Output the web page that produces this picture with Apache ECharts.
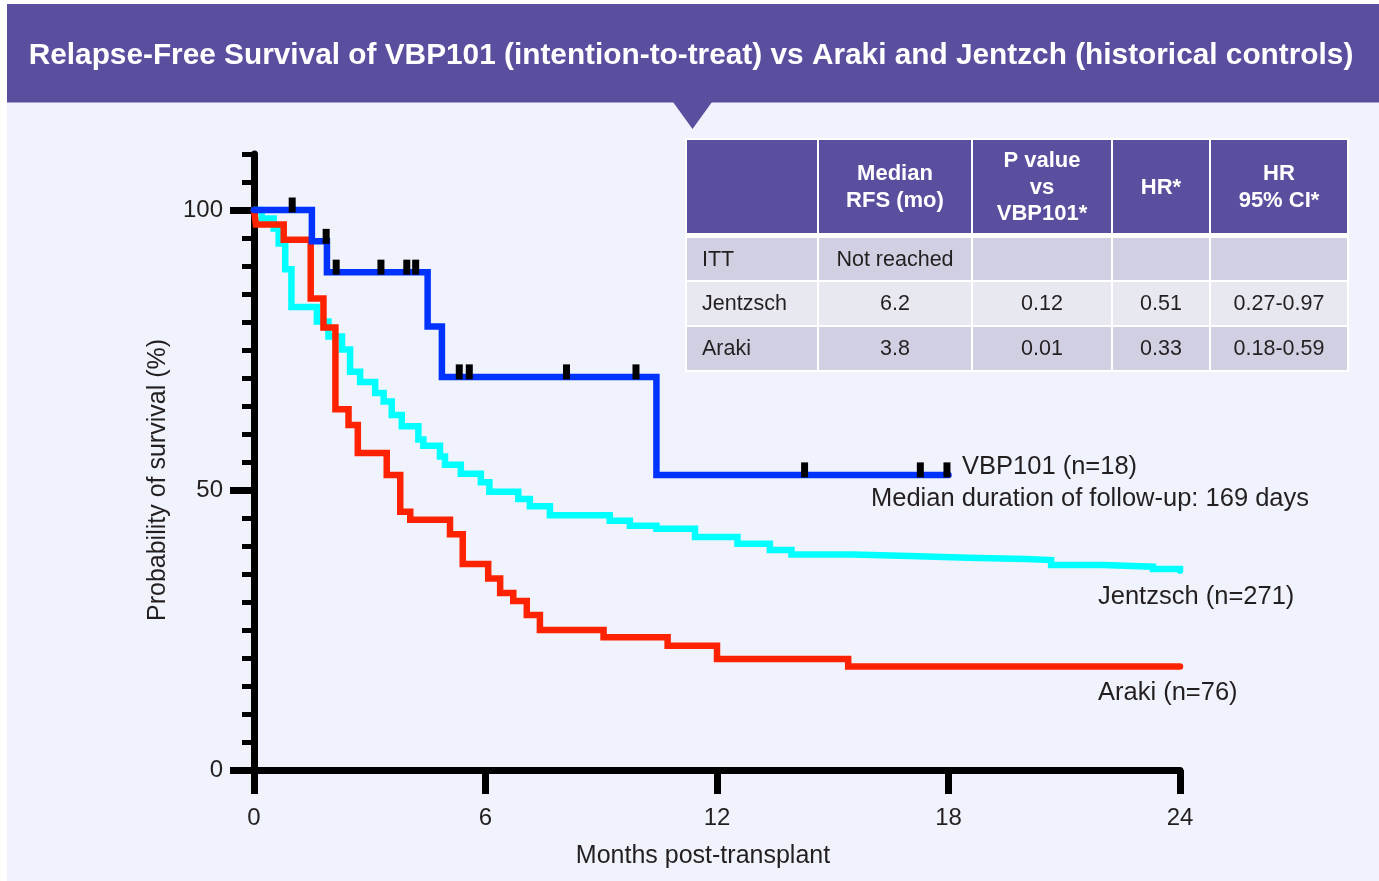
<!DOCTYPE html>
<html><head><meta charset="utf-8">
<script src="https://cdn.jsdelivr.net/npm/echarts@6/dist/echarts.min.js"></script>
<style>html,body{margin:0;padding:0;background:#fff}#c{width:1379px;height:881px}</style>
</head><body><div id="c"></div>
<script>
// ---- data ----
const vbpTimes = [0, 1.50, 1.89, 4.50, 4.87, 10.43, 18.0];
const vbpSurv  = [100, 94.4, 88.9, 79.2, 70.2, 52.7, 52.7];
const vbpCensorTimes = [0.99, 1.87, 2.13, 3.29, 3.96, 4.19, 5.32, 5.58, 8.10, 9.90, 14.27, 17.27, 17.96];
const vbpCensorSurv  = [100, 94.4, 88.9, 88.9, 88.9, 88.9, 70.2, 70.2, 70.2, 70.2, 52.7, 52.7, 52.7];

const jenTimes = [0, 0.2, 0.51, 0.64, 0.81, 0.97, 1.63, 1.93, 2.28, 2.49, 2.75, 3.14, 3.36, 3.57, 3.83, 4.26, 4.39, 4.82, 4.95, 5.36, 5.88, 6.10, 6.85, 7.15, 7.67, 9.22, 9.74, 10.43, 11.43, 12.53, 13.37, 13.93, 15.5, 17.0, 18.5, 20.0, 20.66, 22.0, 23.3, 24.0];
const jenSurv  = [100, 98.5, 96.7, 94.0, 89.4, 82.7, 80.1, 77.4, 75.1, 71.1, 69.3, 67.3, 65.8, 63.4, 61.4, 59.0, 57.9, 56.0, 54.5, 52.9, 51.4, 49.7, 48.4, 47.1, 45.5, 44.5, 43.6, 43.1, 41.6, 40.4, 39.3, 38.5, 38.2, 37.9, 37.7, 37.5, 36.6, 36.3, 35.9, 35.6];

const arakiTimes = [0, 0.05, 0.77, 1.47, 1.80, 2.11, 2.45, 2.69, 3.44, 3.79, 4.05, 5.08, 5.41, 6.07, 6.38, 6.72, 7.07, 7.41, 9.06, 10.72, 12.0, 15.4, 24.0];
const arakiSurv  = [100, 97.4, 94.7, 84.2, 79.0, 64.4, 61.6, 56.6, 52.7, 46.1, 44.7, 42.1, 36.8, 34.2, 31.6, 30.2, 27.7, 25.0, 23.7, 22.2, 19.8, 18.5, 18.5];

const xTickValues = [0, 6, 12, 18, 24];
const yLabelValues = [0, 50, 100];

const titleText = 'Relapse-Free Survival of VBP101 (intention-to-treat) vs Araki and Jentzch (historical controls)';
const xAxisName = 'Months post-transplant';
const yAxisName = 'Probability of survival (%)';
const seriesLabels = ['VBP101 (n=18)', 'Median duration of follow-up: 169 days', 'Jentzsch (n=271)', 'Araki (n=76)'];

const tableHeader = ['', 'Median\nRFS (mo)', 'P value\nvs\nVBP101*', 'HR*', 'HR\n95% CI*'];
const tableRows = [
  ['ITT', 'Not reached', '', '', ''],
  ['Jentzsch', '6.2', '0.12', '0.51', '0.27-0.97'],
  ['Araki', '3.8', '0.01', '0.33', '0.18-0.59']
];

// ---- build ----
const FONT = '"Liberation Sans", Arial, Helvetica, sans-serif';
const PURPLE = '#5a4f9e';
const TXT = '#231f20';
const zip = (a, b) => a.map((v, i) => [v, b[i]]);

const chart = echarts.init(document.getElementById('c'), null, {renderer: 'canvas'});

const graphics = [];
// white page edge strips
graphics.push({type: 'rect', shape: {x: 0, y: 0, width: 7, height: 881}, style: {fill: '#fff'}});
graphics.push({type: 'rect', shape: {x: 0, y: 0, width: 1379, height: 4}, style: {fill: '#fff'}});
// banner
graphics.push({type: 'rect', shape: {x: 7, y: 4, width: 1372, height: 98.5}, style: {fill: PURPLE}});
graphics.push({type: 'polygon', shape: {points: [[673, 102], [712, 102], [692.5, 129]]}, style: {fill: PURPLE}});
graphics.push({type: 'text', x: 691, y: 56, style: {text: titleText, fill: '#fff', fontSize: 29.8, fontWeight: 'bold', fontFamily: FONT, align: 'center', verticalAlign: 'middle'}});

// table
const colX = [687, 819, 973, 1113, 1211];
const colW = [130, 152, 138, 96, 136];
const rowY = [140, 238, 282, 327];
const rowH = [93, 42, 43, 43];
const rowFill = ['#d1d0e2', '#e8e8f1', '#d1d0e2'];
graphics.push({type: 'rect', shape: {x: 685, y: 138, width: 664, height: 234}, style: {fill: '#ffffff'}});
tableHeader.forEach((t, c) => {
  graphics.push({type: 'rect', shape: {x: colX[c], y: rowY[0], width: colW[c], height: rowH[0]}, style: {fill: PURPLE}});
  if (t) graphics.push({type: 'text', x: colX[c] + colW[c] / 2, y: rowY[0] + rowH[0] / 2 + 1,
    style: {text: t, fill: '#fff', fontSize: 22, fontWeight: 'bold', fontFamily: FONT, align: 'center', verticalAlign: 'middle', lineHeight: 26.5}});
});
tableRows.forEach((row, r) => {
  row.forEach((t, c) => {
    graphics.push({type: 'rect', shape: {x: colX[c], y: rowY[r + 1], width: colW[c], height: rowH[r + 1]}, style: {fill: rowFill[r]}});
    if (t) graphics.push({type: 'text', x: c === 0 ? colX[c] + 15 : colX[c] + colW[c] / 2, y: rowY[r + 1] + rowH[r + 1] / 2 + 1,
      style: {text: t, fill: TXT, fontSize: 21.5, fontFamily: FONT, align: c === 0 ? 'left' : 'center', verticalAlign: 'middle'}});
  });
});

// annotations
const annPos = [[962, 467], [871, 499], [1098, 597], [1098, 693]];
seriesLabels.forEach((t, i) => {
  graphics.push({type: 'text', x: annPos[i][0], y: annPos[i][1], style: {text: t, fill: TXT, fontSize: 25.5, fontFamily: FONT, align: 'left', verticalAlign: 'middle'}});
});
// axis names
graphics.push({type: 'text', x: 703, y: 856, style: {text: xAxisName, fill: TXT, fontSize: 25, fontFamily: FONT, align: 'center', verticalAlign: 'middle'}});
graphics.push({type: 'text', x: 158, y: 480, rotation: Math.PI / 2, style: {text: yAxisName, fill: TXT, fontSize: 25, fontFamily: FONT, align: 'center', verticalAlign: 'middle'}});

const option = {
  backgroundColor: '#f0f3fb',
  animation: false,
  grid: {left: 254, right: 199, top: 154, bottom: 111, containLabel: false},
  xAxis: {
    type: 'value', min: 0, max: 24, interval: 6,
    axisLine: {lineStyle: {color: '#000', width: 7}},
    axisTick: {length: 24, lineStyle: {color: '#000', width: 7}, customValues: xTickValues},
    axisLabel: {margin: 36, fontSize: 24, color: TXT, fontFamily: FONT, customValues: xTickValues},
    splitLine: {show: false}
  },
  yAxis: [
    {
      type: 'value', min: 0, max: 110, interval: 5,
      axisLine: {show: true, lineStyle: {color: '#000', width: 7}},
      axisTick: {show: true, length: 12, lineStyle: {color: '#000', width: 5}},
      axisLabel: {show: false},
      splitLine: {show: false}
    },
    {
      type: 'value', min: 0, max: 110, interval: 50, position: 'left',
      axisLine: {show: false},
      axisTick: {show: true, length: 24, lineStyle: {color: '#000', width: 7}, customValues: yLabelValues},
      axisLabel: {margin: 31, fontSize: 24, color: TXT, fontFamily: FONT, customValues: yLabelValues},
      splitLine: {show: false}
    }
  ],
  graphic: {elements: graphics},
  series: [
    {type: 'line', step: 'end', data: zip(jenTimes, jenSurv), symbol: 'none', z: 2,
     lineStyle: {color: '#00ffff', width: 6.5, cap: 'round', join: 'miter'}},
    {type: 'line', step: 'end', data: zip(arakiTimes, arakiSurv), symbol: 'none', z: 3,
     lineStyle: {color: '#ff2200', width: 6.5, cap: 'round', join: 'miter'}},
    {type: 'line', step: 'end', data: zip(vbpTimes, vbpSurv), symbol: 'none', z: 4,
     lineStyle: {color: '#0033ff', width: 6.5, cap: 'round', join: 'miter'}},
    {type: 'scatter', data: zip(vbpCensorTimes, vbpCensorSurv), symbol: 'rect', symbolSize: [7, 15], symbolOffset: [0, -5], z: 5,
     itemStyle: {color: '#000', opacity: 1}}
  ]
};
chart.setOption(option);
</script></body></html>
